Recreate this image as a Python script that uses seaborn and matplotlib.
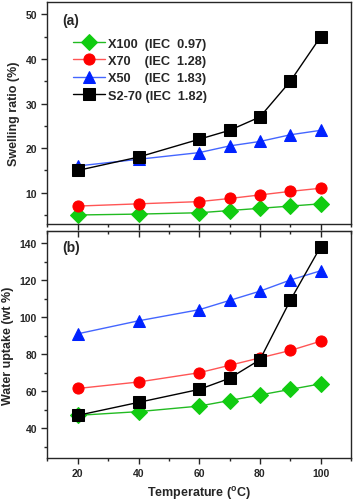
import numpy as np
import pandas as pd
import matplotlib
matplotlib.use('Agg')
import matplotlib.pyplot as plt
from matplotlib.ticker import MultipleLocator
import seaborn as sns

# Temperature points (C)
temperature = [20, 40, 60, 70, 80, 90, 100]

# Swelling ratio (%)
swell_x100 = [5.0, 5.2, 5.5, 6.0, 6.5, 7.0, 7.5]
swell_x70 = [7.0, 7.5, 8.0, 8.7, 9.5, 10.3, 11.0]
swell_x50 = [16.0, 17.5, 19.0, 20.5, 21.5, 23.0, 24.0]
swell_s270 = [15.0, 18.0, 22.0, 24.0, 27.0, 35.0, 45.0]

# Water uptake (wt %)
wu_x100 = [47, 49, 52, 55, 58, 61, 64]
wu_x70 = [61.5, 65, 70, 74, 78, 82, 87]
wu_x50 = [91, 98, 104, 109, 114, 120, 125]
wu_s270 = [47, 54, 61, 67, 77, 109, 138]

labels = ['X100  (IEC  0.97)', 'X70    (IEC  1.28)', 'X50    (IEC  1.83)', 'S2-70 (IEC  1.82)']
markers = ['D', 'o', '^', 's']
line_colors = ['#22bb22', '#ff5555', '#4466ff', '#000000']
face_colors = ['#11cc11', '#ff0000', '#0022ff', '#000000']

sns.set_style('ticks')
plt.rcParams['font.family'] = ['Liberation Sans', 'DejaVu Sans']
plt.rcParams['font.weight'] = 'bold'

fig = plt.figure(figsize=(3.54, 5.02), dpi=100)
ax1 = fig.add_axes([0.134, 0.552, 0.8575, 0.442])
ax2 = fig.add_axes([0.134, 0.0857, 0.8575, 0.4523])


def draw(ax, series):
    for vals, lab, m, lc, fc in zip(series, labels, markers, line_colors, face_colors):
        df = pd.DataFrame({'T': temperature, 'v': vals})
        ms = 8.5 if m == 'D' else 8
        sns.lineplot(data=df, x='T', y='v', ax=ax, color=lc, lw=1, marker=m,
                     markersize=ms, markerfacecolor=fc, markeredgecolor=fc,
                     label=lab)


draw(ax1, [swell_x100, swell_x70, swell_x50, swell_s270])
draw(ax2, [wu_x100, wu_x70, wu_x50, wu_s270])

for ax in (ax1, ax2):
    ax.set_xlim(10, 110)
    ax.xaxis.set_major_locator(MultipleLocator(20))
    ax.xaxis.set_minor_locator(MultipleLocator(10))
    for s in ax.spines.values():
        s.set_linewidth(1)
        s.set_visible(True)
    ax.tick_params(which='both', direction='out', labelsize=7.5, width=1)
    ax.tick_params(which='major', length=4)
    ax.tick_params(which='minor', length=2.5)
    for t in ax.get_xticklabels() + ax.get_yticklabels():
        t.set_fontweight('bold')

ax1.set_ylim(3, 52.8)
ax1.set_yticks([10, 20, 30, 40, 50])
ax1.yaxis.set_minor_locator(MultipleLocator(5))
ax1.tick_params(axis='x', labelbottom=False)
ax1.set_xlabel('')
ax1.set_ylabel('Swelling ratio (%)', fontsize=9, fontweight='bold', labelpad=4)
ax1.text(0.05, 0.95, '(a)', transform=ax1.transAxes, fontsize=10,
         fontweight='bold', va='top', ha='left')
leg = ax1.legend(loc='upper left', bbox_to_anchor=(0.085, 0.84), frameon=False,
                 fontsize=9.2, handlelength=2.5, handletextpad=0.2,
                 labelspacing=0.42, borderaxespad=0, borderpad=0)
for t in leg.get_texts():
    t.set_fontweight('bold')

ax2.set_ylim(24, 146.5)
ax2.set_yticks([40, 60, 80, 100, 120, 140])
ax2.yaxis.set_minor_locator(MultipleLocator(10))
ax2.get_legend().remove()
# ticks along the top of panel (b) point inward
top = ax2.secondary_xaxis('top')
top.xaxis.set_major_locator(MultipleLocator(20))
top.xaxis.set_minor_locator(MultipleLocator(10))
top.tick_params(which='both', direction='in', labeltop=False, width=1)
top.tick_params(which='major', length=4)
top.tick_params(which='minor', length=2.5)
ax2.set_xlabel('Temperature ($\\mathregular{^{o}}$C)', fontsize=9, fontweight='bold', labelpad=4)
ax2.set_ylabel('Water uptake (wt %)', fontsize=9, fontweight='bold', labelpad=4)
ax2.text(0.05, 0.96, '(b)', transform=ax2.transAxes, fontsize=10,
         fontweight='bold', va='top', ha='left')

fig.savefig('out.png', dpi=100)
